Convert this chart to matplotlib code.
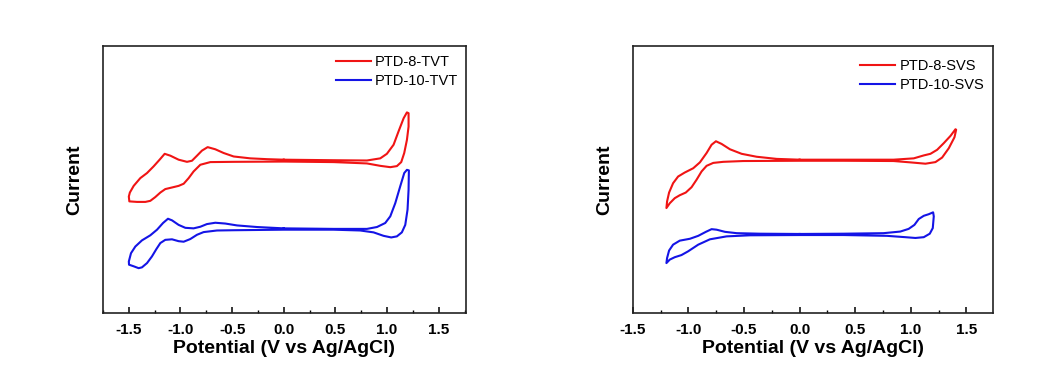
import matplotlib
matplotlib.use("Agg")
import matplotlib.pyplot as plt
from matplotlib.ticker import MultipleLocator

plt.rcParams['font.family'] = ['Liberation Sans', 'DejaVu Sans']
plt.rcParams['axes.unicode_minus'] = False

# cyclic voltammograms, potential in V vs Ag/AgCl, current in arbitrary units (curves offset)
tvt8_v = [0.0, 0.482, 0.805, 0.934, 0.998, 1.063, 1.111, 1.160, 1.192, 1.208,
          1.208, 1.192, 1.166, 1.137, 1.095, 1.031, 0.934, 0.805, 0.482, 0.0,
          -0.485, -0.711, -0.808, -0.873, -0.921, -0.969, -1.018, -1.082, -1.147, -1.195,
          -1.244, -1.292, -1.340, -1.421, -1.495,
          -1.5, -1.49, -1.453, -1.389, -1.324, -1.260, -1.202, -1.153, -1.098, -1.018,
          -0.937, -0.889, -0.840, -0.792, -0.737, -0.663, -0.582, -0.485, -0.324, -0.163, 0.0]
tvt8_i = [57.4, 57.2, 57.1, 57.9, 59.6, 63.0, 68.0, 72.9, 75.1, 74.8,
          69.8, 64.8, 59.9, 56.5, 55.0, 54.6, 55.1, 56.0, 56.5, 56.7,
          56.6, 56.5, 55.5, 53.0, 50.5, 48.4, 47.6, 47.0, 46.4, 45.1,
          43.4, 42.0, 41.6, 41.6, 41.8,
          43.6, 45.1, 47.6, 50.5, 52.4, 54.9, 57.4, 59.6, 58.9, 57.4,
          56.6, 57.0, 58.9, 60.8, 62.1, 61.3, 59.9, 58.6, 57.9, 57.6, 57.4]

tvt10_v = [0.0, 0.482, 0.805, 0.902, 0.982, 1.031, 1.079, 1.127, 1.166, 1.192, 1.211,
           1.208, 1.198, 1.176, 1.143, 1.095, 1.040, 0.966, 0.869, 0.740, 0.482, 0.0,
           -0.485, -0.647, -0.776, -0.840, -0.905, -0.969, -1.018, -1.082, -1.147, -1.195,
           -1.234, -1.276, -1.324, -1.373, -1.405, -1.453, -1.498,
           -1.5, -1.479, -1.437, -1.373, -1.292, -1.227, -1.169, -1.121, -1.082, -1.018,
           -0.953, -0.873, -0.808, -0.744, -0.663, -0.566, -0.453, -0.260, 0.0]
tvt10_i = [31.7, 31.5, 31.5, 32.2, 33.7, 36.2, 41.1, 47.4, 52.4, 53.6, 53.4,
           46.1, 38.7, 33.0, 30.2, 28.7, 28.3, 28.9, 30.2, 30.9, 31.2, 31.2,
           31.0, 30.9, 30.3, 29.3, 27.7, 26.7, 26.9, 27.6, 27.4, 26.2,
           23.9, 21.2, 18.7, 17.1, 16.8, 17.5, 18.1,
           19.3, 22.4, 24.9, 27.2, 29.1, 31.2, 33.7, 35.3, 34.7, 33.0,
           31.9, 31.7, 32.3, 33.3, 33.8, 33.5, 32.8, 32.2, 31.7]

svs8_v = [0.0, 0.395, 0.845, 1.026, 1.116, 1.176, 1.236, 1.296, 1.356, 1.401,
          1.407, 1.392, 1.341, 1.281, 1.221, 1.131, 0.995, 0.845, 0.395, 0.0,
          -0.506, -0.686, -0.776, -0.836, -0.881, -0.926, -0.971, -1.023, -1.077, -1.122,
          -1.167, -1.197,
          -1.191, -1.173, -1.137, -1.092, -1.032, -0.956, -0.896, -0.836, -0.791, -0.752,
          -0.701, -0.626, -0.521, -0.386, -0.206, 0.0]
svs8_i = [57.4, 57.4, 57.4, 57.9, 59.0, 59.6, 61.1, 63.6, 66.3, 68.8,
          68.6, 65.8, 61.7, 58.2, 56.5, 55.9, 56.4, 56.9, 57.0, 57.0,
          56.9, 56.6, 56.2, 55.1, 53.0, 49.9, 47.1, 45.1, 44.1, 43.0,
          41.1, 39.3,
          41.8, 45.1, 48.6, 51.1, 52.6, 54.2, 56.4, 59.9, 63.0, 64.3,
          63.3, 61.3, 59.6, 58.5, 57.7, 57.4]

svs10_v = [0.0, 0.395, 0.755, 0.905, 0.980, 1.032, 1.071, 1.116, 1.161, 1.200,
           1.206, 1.197, 1.170, 1.116, 1.041, 0.950, 0.785, 0.395, 0.0,
           -0.446, -0.656, -0.806, -0.911, -1.002, -1.062, -1.122, -1.167, -1.197,
           -1.191, -1.173, -1.137, -1.077, -0.986, -0.911, -0.842, -0.791, -0.746,
           -0.671, -0.566, -0.356, 0.0]
svs10_i = [29.6, 29.7, 29.9, 30.5, 31.5, 33.0, 35.2, 36.4, 37.0, 37.7,
           36.2, 31.8, 29.7, 28.4, 28.1, 28.4, 28.9, 29.2, 29.2,
           29.1, 28.7, 27.6, 25.6, 23.1, 21.7, 20.9, 20.0, 18.7,
           20.6, 23.4, 25.6, 27.1, 27.8, 28.9, 30.4, 31.4, 31.2,
           30.4, 29.9, 29.7, 29.6]

red = '#f01414'
blue = '#1414e6'

fig = plt.figure(figsize=(10.51, 3.67), dpi=100)
ax1 = fig.add_axes([0.098, 0.147, 0.345, 0.728])
ax2 = fig.add_axes([0.602, 0.147, 0.343, 0.728])

panels = [
    (ax1, (tvt8_v, tvt8_i, 'PTD-8-TVT'), (tvt10_v, tvt10_i, 'PTD-10-TVT'), (-1.75, 1.76), (0.996, 0.987)),
    (ax2, (svs8_v, svs8_i, 'PTD-8-SVS'), (svs10_v, svs10_i, 'PTD-10-SVS'), (-1.5, 1.74), (0.991, 0.972)),
]

for ax, s8, s10, xlim, anchor in panels:
    ax.plot(s8[0], s8[1], color=red, lw=1.5, label=s8[2], solid_joinstyle='round')
    ax.plot(s10[0], s10[1], color=blue, lw=1.5, label=s10[2], solid_joinstyle='round')
    ax.set_xlim(*xlim)
    ax.set_ylim(0, 100)
    ax.xaxis.set_major_locator(MultipleLocator(0.5))
    ax.xaxis.set_minor_locator(MultipleLocator(0.25))
    ax.tick_params(axis='x', which='major', direction='in', length=4, width=1.1,
                   labelsize=11, pad=7)
    ax.tick_params(axis='x', which='minor', direction='in', length=2.5, width=1.0)
    ax.set_yticks([])
    for lab in ax.get_xticklabels():
        lab.set_fontweight('bold')
    for sp in ax.spines.values():
        sp.set_linewidth(1.2)
        sp.set_color('#222222')
    ax.set_xlabel('Potential (V vs Ag/AgCl)', fontsize=14, fontweight='bold', labelpad=2)
    ax.set_ylabel('Current', fontsize=14, fontweight='bold', labelpad=14)
    ax.legend(loc='upper right', bbox_to_anchor=anchor, borderaxespad=0,
              frameon=False, fontsize=10.5, handlelength=2.4,
              handletextpad=0.3, labelspacing=0.35)

fig.savefig('out.png', dpi=100)
